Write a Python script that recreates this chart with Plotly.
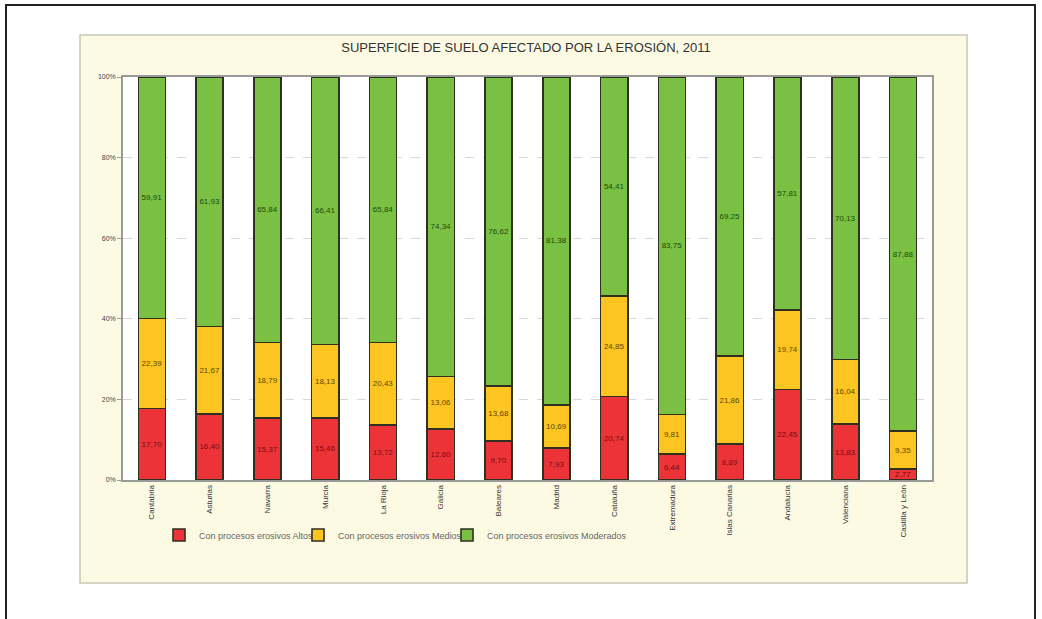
import plotly.graph_objects as go

categories = ["Cantabria", "Asturias", "Navarra", "Murcia", "La Rioja", "Galicia",
              "Baleares", "Madrid", "Cataluña", "Extremadura", "Islas Canarias",
              "Andalucía", "Valenciana", "Castilla y León"]
altos = [17.70, 16.40, 15.37, 15.46, 13.72, 12.60, 9.70, 7.93, 20.74, 6.44, 8.89, 22.45, 13.83, 2.77]
medios = [22.39, 21.67, 18.79, 18.13, 20.43, 13.06, 13.68, 10.69, 24.85, 9.81, 21.86, 19.74, 16.04, 9.35]
moderados = [59.91, 61.93, 65.84, 66.41, 65.84, 74.34, 76.62, 81.38, 54.41, 83.75, 69.25, 57.81, 70.13, 87.88]
series_names = ["Con procesos erosivos Altos", "Con procesos erosivos Medios", "Con procesos erosivos Moderados"]
y_ticks = [0, 20, 40, 60, 80, 100]
y_tick_labels = ["0%", "20%", "40%", "60%", "80%", "100%"]

colors = ["#ec3338", "#fdc521", "#7ac143"]
text_colors = ["#7a0d12", "#5e4800", "#1a4a0c"]
legend_ids = ["legend", "legend2", "legend3"]

fig = go.Figure()
for name, vals, c, tc, lg in zip(series_names, [altos, medios, moderados], colors, text_colors, legend_ids):
    fig.add_trace(go.Bar(
        x=categories, y=vals, name=name, legend=lg, showlegend=True,
        marker=dict(color=c, line=dict(color="#2f2f22", width=1.6)),
        text=vals, texttemplate="%{y:.2f}", textposition="inside",
        insidetextanchor="middle", textangle=0,
        textfont=dict(family="Arial", size=8, color=tc),
        width=0.47,
    ))

L, R, T, B = 123, 932, 77, 480
W, H = R - L, B - T
def px(x):
    return (x - L) / W
def py(y):
    return (B - y) / H

shapes = [
    dict(type="rect", xref="paper", yref="paper", layer="below",
         x0=px(80), x1=px(967), y0=py(583), y1=py(35),
         fillcolor="#fcfae3", line=dict(color="#c9c6b4", width=1.5)),
    dict(type="rect", xref="paper", yref="paper", layer="below",
         x0=0, x1=1, y0=0, y1=1,
         fillcolor="white", line=dict(width=0)),
    dict(type="rect", xref="paper", yref="paper", layer="below",
         x0=px(6), x1=px(1035), y0=py(640), y1=py(5),
         fillcolor="rgba(0,0,0,0)", line=dict(color="#222222", width=2)),
]

legend_style = dict(orientation="h", xanchor="left", y=py(535), yanchor="middle",
                    font=dict(family="Liberation Sans", size=9, color="#666666"),
                    bgcolor="rgba(0,0,0,0)", itemwidth=30)

fig.update_layout(
    barmode="stack",
    showlegend=True,
    width=1042, height=619,
    margin=dict(l=L, r=1042 - R, t=T, b=619 - B),
    paper_bgcolor="white",
    plot_bgcolor="white",
    separators=",.",
    shapes=shapes,
    title=dict(text="SUPERFICIE DE SUELO AFECTADO POR LA EROSIÓN, 2011",
               x=526 / 1042, xanchor="center",
               y=1 - 47 / 619, yanchor="middle",
               font=dict(family="Liberation Sans", size=13, color="#333333")),
    xaxis=dict(tickangle=-90, tickfont=dict(family="Arial", size=8, color="#333333"),
               showline=True, linecolor="#9a9a9a", linewidth=1.5, mirror=True,
               ticks="", range=[-0.5, 13.5]),
    yaxis=dict(range=[0, 100], tickvals=y_ticks, ticktext=y_tick_labels,
               tickfont=dict(family="Arial", size=7, color="#444444"),
               showgrid=True, gridcolor="#d8d8d8", griddash="dash", gridwidth=1,
               showline=True, linecolor="#9a9a9a", linewidth=1.5, mirror=True,
               ticks="outside", ticklen=4, tickcolor="#9a9a9a"),
    legend=dict(x=px(159), **legend_style),
    legend2=dict(x=px(298), **legend_style),
    legend3=dict(x=px(447), **legend_style),
    uniformtext=dict(minsize=7, mode="show"),
)

fig.write_html("out.html", post_script="document.body.style.margin='0';",
               config={"displayModeBar": False})
